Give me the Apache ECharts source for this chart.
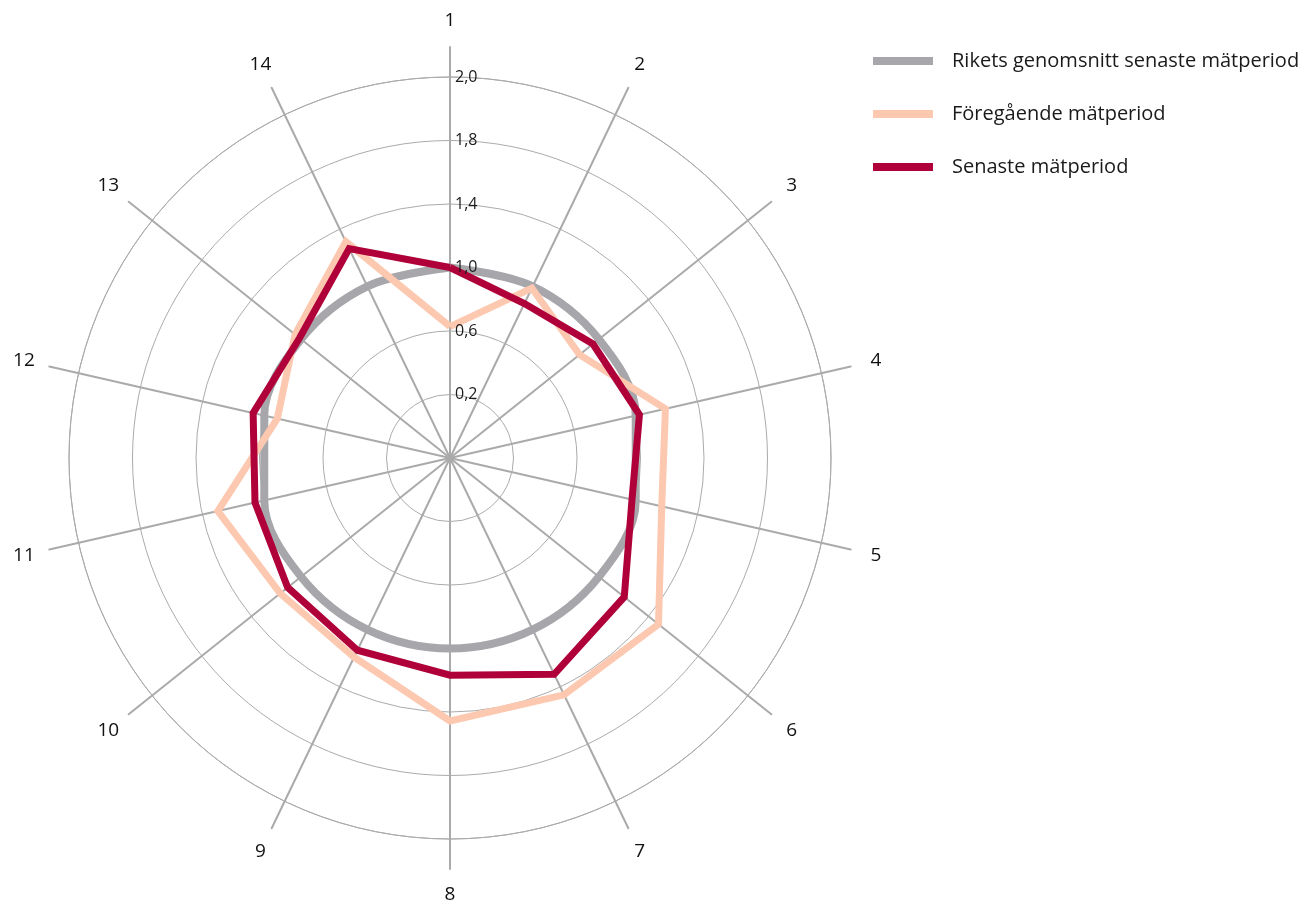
<!DOCTYPE html>
<html>
<head>
<meta charset="utf-8">
<script src="https://cdn.jsdelivr.net/npm/echarts@6/dist/echarts.min.js"></script>
<style>
html,body{margin:0;padding:0;background:#fff;}
#chart{width:1301px;height:900px;}
</style>
</head>
<body>
<div id="chart"></div>
<script>
// Data (axis 1..14, clockwise from top)
const indicatorNames = ['1','2','3','4','5','6','7','8','9','10','11','12','13','14'];
const seriesNames = ['Rikets genomsnitt senaste mätperiod', 'Föregående mätperiod', 'Senaste mätperiod'];
const rikets     = [1.00, 1.00, 1.00, 1.00, 1.00, 1.00, 1.00, 1.00, 1.00, 1.00, 1.00, 1.00, 1.00, 1.00];
const foregaende = [0.69, 0.99, 0.87, 1.16, 1.14, 1.40, 1.38, 1.38, 1.16, 1.14, 1.25, 0.93, 1.04, 1.26];
const senaste    = [1.00, 0.90, 0.96, 1.02, 0.98, 1.17, 1.26, 1.14, 1.12, 1.09, 1.05, 1.06, 1.01, 1.22];
const tickLabels = ['', '0,2', '0,6', '1,0', '1,4', '1,8', '2,0'];
const axisMax = 2;

// ECharts radar runs counter-clockwise; reorder so axes run clockwise
const cw = arr => [arr[0]].concat(arr.slice(1).reverse());

const colors = ['#a7a7ab', '#fdc8b0', '#b0003a'];
const widths = [8, 7, 7];
const FONT = 'Open Sans';

const names = cw(indicatorNames);
const CENTER = [450, 458];
const R = 381;
const N = indicatorNames.length;

// national average drawn as a smooth closed ring in polar coords
const riketsPolar = rikets.map((v, i) => [v, i]).concat([[rikets[0], N]]);

const chart = echarts.init(document.getElementById('chart'));
chart.setOption({
  backgroundColor: '#ffffff',
  animation: false,
  color: colors,
  legend: {
    orient: 'vertical',
    left: 868,
    top: 45,
    icon: 'rect',
    itemWidth: 60,
    itemHeight: 8,
    itemGap: 31,
    data: seriesNames,
    textStyle: { fontFamily: FONT, fontSize: 20, color: '#1a1a1a', lineHeight: 22, padding: [0, 0, 0, 14] }
  },
  polar: { center: CENTER, radius: R },
  angleAxis: {
    type: 'value', min: 0, max: N, startAngle: 90, clockwise: true,
    axisLine: { show: false }, axisTick: { show: false }, axisLabel: { show: false },
    splitLine: { show: false }
  },
  radiusAxis: {
    type: 'value', min: 0, max: axisMax,
    axisLine: { show: false }, axisTick: { show: false }, axisLabel: { show: false },
    splitLine: { show: false }
  },
  radar: [
    { // circles
      center: CENTER, radius: R, shape: 'circle', splitNumber: 6, startAngle: 90,
      indicator: names.map(n => ({ name: n, min: 0, max: axisMax })),
      axisName: { show: false },
      axisLine: { show: false },
      axisTick: { show: false },
      axisLabel: { show: false },
      splitArea: { show: false },
      splitLine: { show: true, lineStyle: { color: '#ababab', width: 1 } }
    },
    { // spokes + names
      center: CENTER, radius: 411, shape: 'circle', splitNumber: 6, startAngle: 90, nameGap: 26,
      indicator: names.map(n => ({ name: n, min: 0, max: axisMax })),
      axisName: { show: true, color: '#111', fontFamily: FONT, fontSize: 19, align: 'center', verticalAlign: 'middle' },
      axisLine: { show: true, lineStyle: { color: '#aaaaaa', width: 2 } },
      axisTick: { show: false },
      axisLabel: { show: false },
      splitArea: { show: false },
      splitLine: { show: false }
    },
    { // tick labels on top
      center: CENTER, radius: R, shape: 'circle', splitNumber: 6, startAngle: 90, z: 20,
      indicator: names.map((n, i) => i === 0
        ? { name: n, min: 0, max: axisMax, axisLabel: { show: true } }
        : { name: n, min: 0, max: axisMax }),
      axisName: { show: false },
      axisLine: { show: false },
      axisTick: { show: false },
      axisLabel: {
        show: false, margin: -5, align: 'left', color: '#1a1a1a', fontFamily: FONT, fontSize: 16,
        formatter: v => tickLabels[Math.round(v * 3)] || ''
      },
      splitArea: { show: false },
      splitLine: { show: false }
    }
  ],
  series: [
    {
      type: 'line',
      name: seriesNames[0],
      coordinateSystem: 'polar',
      data: riketsPolar,
      smooth: 0.35,
      symbol: 'none',
      silent: true,
      z: 2,
      lineStyle: { color: colors[0], width: widths[0] },
      itemStyle: { color: colors[0] }
    }
  ].concat([foregaende, senaste].map((vals, k) => {
    const i = k + 1;
    return {
      type: 'radar',
      name: seriesNames[i],
      radarIndex: 0,
      z: 2 + i,
      symbol: 'none',
      silent: true,
      itemStyle: { color: colors[i] },
      lineStyle: { color: colors[i], width: widths[i] },
      data: [{
        name: seriesNames[i],
        value: cw(vals),
        lineStyle: { color: colors[i], width: widths[i], join: 'miter' },
        itemStyle: { color: colors[i] },
        areaStyle: { opacity: 0 }
      }]
    };
  }))
});
</script>
</body>
</html>
